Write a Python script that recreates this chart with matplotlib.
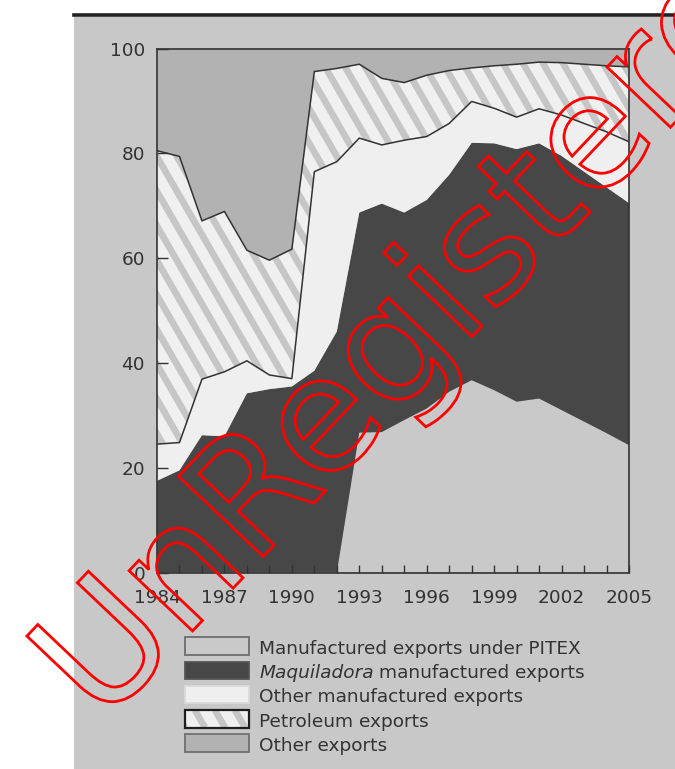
import numpy as np
import matplotlib
matplotlib.use("Agg")
import matplotlib.pyplot as plt
from matplotlib.patches import Rectangle, PathPatch
from matplotlib.lines import Line2D
from matplotlib.collections import LineCollection
from matplotlib.textpath import TextPath
from matplotlib.font_manager import FontProperties
from matplotlib.transforms import Affine2D, IdentityTransform

# ---------------- data (shares of total exports, %) ----------------
years = list(range(1984, 2006))
pitex = [0, 0, 0, 0, 0, 0, 0, 0, 0, 26.7, 26.8, 29.1, 31.3, 34.5, 36.7, 34.8,
         32.6, 33.2, 31.0, 28.8, 26.6, 24.3]
maquila = [17.5, 19.5, 26.2, 26.0, 34.2, 35.0, 35.5, 38.5, 46.0, 42.0, 43.6, 39.6,
           39.8, 41.4, 45.3, 47.1, 48.2, 48.7, 48.5, 47.7, 46.9, 46.2]
other_manuf = [7.0, 5.3, 10.7, 12.3, 6.2, 2.7, 1.5, 38.0, 32.4, 14.2, 11.2, 13.8,
               12.1, 9.8, 7.9, 6.7, 6.1, 6.6, 7.8, 9.2, 10.6, 11.7]
petroleum = [56.0, 54.6, 30.2, 30.6, 21.1, 21.9, 24.7, 19.1, 17.8, 14.1, 12.7, 11.0,
             11.7, 10.1, 6.4, 8.1, 10.1, 8.9, 10.0, 11.3, 12.6, 14.3]
other = [19.5, 20.6, 32.9, 31.1, 38.5, 40.4, 38.3, 4.4, 3.8, 3.0, 5.7, 6.5, 5.1,
         4.2, 3.7, 3.3, 3.0, 2.6, 2.7, 3.0, 3.3, 3.5]
xtick_labels = [str(y) if (y - 1984) % 3 == 0 else "" for y in years]
ytick_values = [0, 20, 40, 60, 80, 100]
legend_labels = ["Manufactured exports under PITEX",
                 "Maquiladora manufactured exports",
                 "Other manufactured exports",
                 "Petroleum exports",
                 "Other exports"]
watermark = "UnRegistered"

# ---------------- style ----------------
W, H, DPI = 675, 769, 100
plt.rcParams['font.family'] = ['DejaVu Sans']

C_PANEL = '#c8c8c8'
C_PITEX = '#c9c9c9'
C_MAQ = '#474747'
C_OTH = '#efefef'
C_PET_BG = '#f0f0f0'
C_PET_HATCH = '#c6c6c6'
C_OTHER = '#b2b2b2'
C_LINE = '#333333'
C_TEXT = '#333333'
FS = 13.3

STRIPE_PERIOD = 20.0   # px, horizontal
STRIPE_ANGLE = 60.0    # degrees from horizontal, "\" direction
STRIPE_LW = 4.8        # points


def stripes(x0, y0, x1, y1, zorder):
    """Diagonal stripe segments covering a pixel box (display coords)."""
    hgt = y1 - y0
    off = hgt / np.tan(np.radians(STRIPE_ANGLE))
    segs = []
    x = x0 - off - STRIPE_PERIOD
    while x < x1 + STRIPE_PERIOD:
        segs.append([(x, y1), (x + off, y0)])
        x += STRIPE_PERIOD
    return LineCollection(segs, colors=C_PET_HATCH, linewidths=STRIPE_LW,
                          transform=IdentityTransform(), zorder=zorder,
                          capstyle='butt')


fig = plt.figure(figsize=(W / DPI, H / DPI), dpi=DPI)
fig.patch.set_facecolor('white')
fig.add_artist(Rectangle((74 / W, 0), 1 - 74 / W, 1 - 17 / H, transform=fig.transFigure,
                         facecolor=C_PANEL, edgecolor='none', zorder=0))
fig.add_artist(Line2D([74 / W, 1], [1 - 15 / H, 1 - 15 / H], transform=fig.transFigure,
                      color='#222222', lw=2.6, zorder=1))

L, R, T, B = 157, 629, 48.5, 572.5
ax = fig.add_axes([L / W, 1 - B / H, (R - L) / W, (B - T) / H])
ax.set_facecolor(C_OTHER)

c1 = np.array(pitex, dtype=float)
c2 = c1 + np.array(maquila)
c3 = c2 + np.array(other_manuf)
c4 = c3 + np.array(petroleum)
c5 = c4 + np.array(other)

ax.fill_between(years, 0, c1, facecolor=C_PITEX, edgecolor='none', lw=0)
ax.fill_between(years, c1, c2, facecolor=C_MAQ, edgecolor='none', lw=0)
ax.fill_between(years, c2, c3, facecolor=C_OTH, edgecolor='none', lw=0)
pet = ax.fill_between(years, c3, c4, facecolor=C_PET_BG, edgecolor='none', lw=0)
ax.fill_between(years, c4, c5, facecolor=C_OTHER, edgecolor='none', lw=0)

ax.set_xlim(years[0], years[-1])
ax.set_ylim(0, 100)

bb = ax.bbox
lc = stripes(bb.x0, bb.y0, bb.x1, bb.y1, zorder=1.5)
lc.set_clip_path(pet.get_paths()[0], ax.transData)
ax.add_collection(lc, autolim=False)

ax.plot(years, c3, color=C_LINE, lw=1.1, zorder=2)
ax.plot(years, c4, color=C_LINE, lw=1.1, zorder=2)

ax.set_xticks(years)
ax.set_xticklabels(xtick_labels)
ax.set_yticks(ytick_values)
ax.set_yticklabels([str(v) for v in ytick_values])
ax.tick_params(axis='x', direction='in', length=6, width=1, color=C_LINE, pad=12,
               labelsize=FS, labelcolor=C_TEXT)
ax.tick_params(axis='y', direction='in', length=8, width=1, color=C_LINE, pad=8.6,
               labelsize=FS, labelcolor=C_TEXT)
# ticks that sit on the dark band appear light
for tick, yr, p in zip(ax.xaxis.get_major_ticks(), years, pitex):
    if p == 0 and yr != years[0]:
        tick.tick1line.set_color('#e6e6e6')
for s in ax.spines.values():
    s.set_color(C_LINE)
    s.set_linewidth(1.2)

# ---------------- legend (drawn manually below the axes) ----------------
styles = [
    dict(fc=C_PITEX, ec='#6e6e6e', lw=1.3),
    dict(fc=C_MAQ, ec='#555555', lw=1.3),
    dict(fc=C_OTH, ec='#dadada', lw=1.3),
    dict(fc=C_PET_BG, ec='#1e1e1e', lw=1.6, hatch=True),
    dict(fc=C_OTHER, ec='#707070', lw=1.3),
]
lx, lw_, lh = 185, 64, 17.5
tx = 259
renderer = fig.canvas.get_renderer()
for i, (lab, st) in enumerate(zip(legend_labels, styles)):
    top = 637.3 + 24.25 * i
    xy = (lx / W, 1 - (top + lh) / H)
    if st.get('hatch'):
        base = Rectangle(xy, lw_ / W, lh / H, transform=fig.transFigure,
                         facecolor=st['fc'], edgecolor='none', lw=0, zorder=2)
        fig.add_artist(base)
        slc = stripes(lx, H - (top + lh), lx + lw_, H - top, zorder=2.5)
        slc.set_clip_path(base)
        fig.add_artist(slc)
        fig.add_artist(Rectangle(xy, lw_ / W, lh / H, transform=fig.transFigure,
                                 facecolor='none', edgecolor=st['ec'], lw=st['lw'],
                                 zorder=3))
    else:
        fig.add_artist(Rectangle(xy, lw_ / W, lh / H, transform=fig.transFigure,
                                 facecolor=st['fc'], edgecolor=st['ec'], lw=st['lw'],
                                 zorder=2))
    yb = 1 - (top + lh - 1) / H
    if lab.startswith("Maquiladora"):
        first, rest = lab.split(" ", 1)
        t1 = fig.text(tx / W, yb, first, style='italic', fontsize=FS, color=C_TEXT,
                      ha='left', va='baseline')
        ext = t1.get_window_extent(renderer)
        space = 0.318 * FS * DPI / 72
        fig.text((ext.x1 + space) / W, yb, rest, fontsize=FS, color=C_TEXT,
                 ha='left', va='baseline')
    else:
        fig.text(tx / W, yb, lab, fontsize=FS, color=C_TEXT, ha='left', va='baseline')

# ---------------- watermark ----------------
fp = FontProperties(family='DejaVu Sans')
S = 160.0
path = TextPath((0, 0), watermark, size=S, prop=fp)


def ink_right(s):
    return TextPath((0, 0), s, size=S, prop=fp).get_extents().x1


xR = (ink_right("Un") + ink_right("UnR")) / 2
tr = (Affine2D().translate(-xR, -0.365 * S).rotate_deg(46.5)
      .translate(242, H - 494))
fig.add_artist(PathPatch(path, transform=tr, facecolor='none', edgecolor='#ff0000',
                         lw=2.0, zorder=20))

fig.savefig('out.png', dpi=DPI)
